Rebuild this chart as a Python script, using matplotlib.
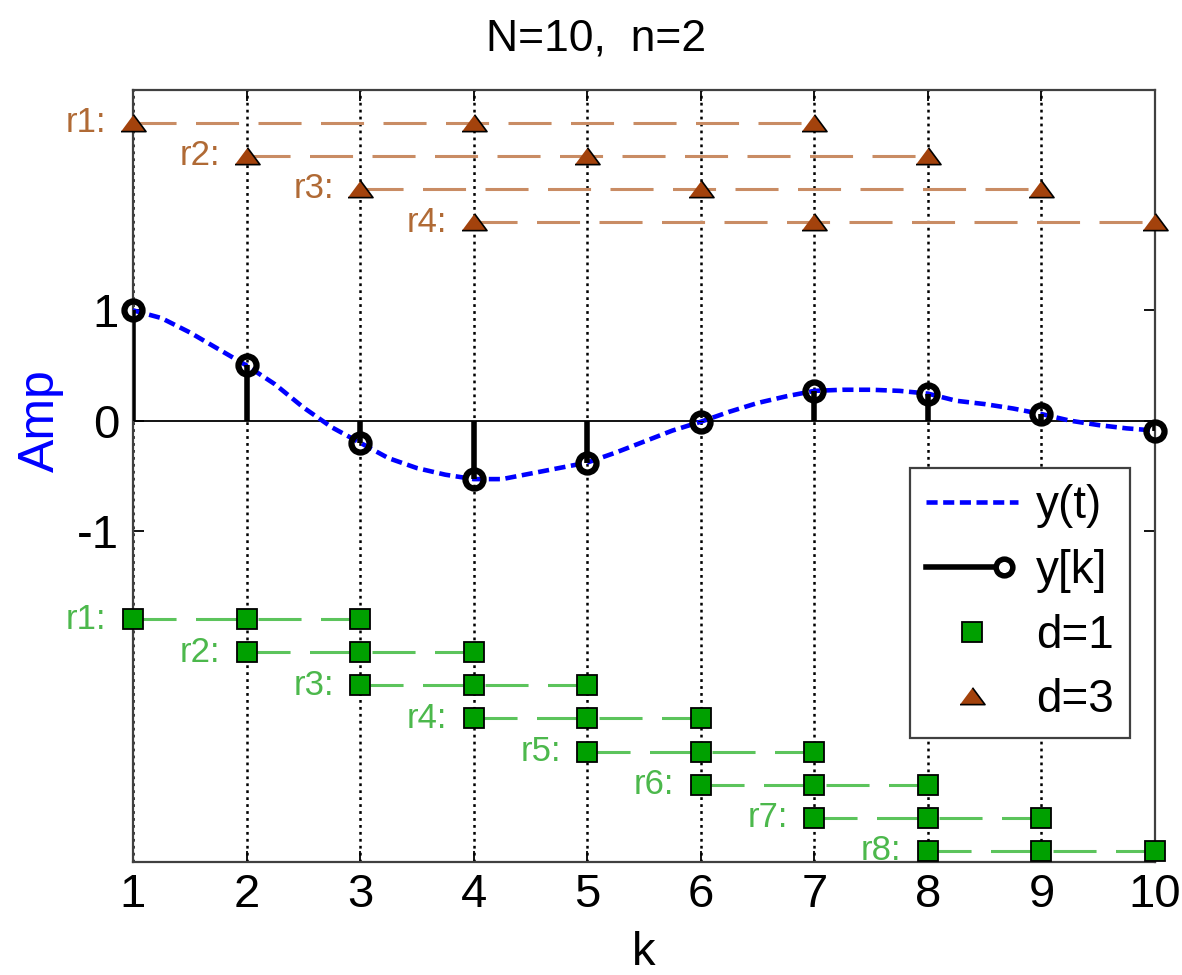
import numpy as np
import matplotlib.pyplot as plt
from matplotlib.lines import Line2D
from matplotlib.legend_handler import HandlerBase

plt.rcParams['font.family'] = ['Liberation Sans', 'DejaVu Sans']
plt.rcParams['axes.unicode_minus'] = False
plt.rcParams['lines.scale_dashes'] = False

# samples y[k]
k = [1, 2, 3, 4, 5, 6, 7, 8, 9, 10]
y_k = [1.0, 0.5, -0.2, -0.53, -0.38, -0.01, 0.27, 0.245, 0.06, -0.09]

# continuous y(t)
t = [1.0, 1.25, 1.5, 1.75, 2.0, 2.25, 2.5, 2.75, 3.0, 3.25, 3.5, 3.75,
     4.0, 4.25, 4.5, 4.75, 5.0, 5.25, 5.5, 5.75, 6.0, 6.25, 6.5, 6.75,
     7.0, 7.25, 7.5, 7.75, 8.0, 8.25, 8.5, 8.75, 9.0, 9.25, 9.5, 9.75, 10.0]
y_t = [1.0, 0.93, 0.8, 0.65, 0.5, 0.33, 0.12, -0.06, -0.2, -0.34, -0.43, -0.49,
       -0.53, -0.53, -0.48, -0.43, -0.38, -0.29, -0.19, -0.09, -0.01, 0.08, 0.16, 0.22,
       0.27, 0.28, 0.28, 0.27, 0.245, 0.18, 0.15, 0.11, 0.06, 0.0, -0.04, -0.07, -0.09]

# d=3 rows (triangles) and d=1 rows (squares)
d3_rows = [[1, 4, 7], [2, 5, 8], [3, 6, 9], [4, 7, 10]]
d3_levels = [2.7, 2.4, 2.1, 1.8]
d1_rows = [[1, 2, 3], [2, 3, 4], [3, 4, 5], [4, 5, 6],
           [5, 6, 7], [6, 7, 8], [7, 8, 9], [8, 9, 10]]
d1_levels = [-1.8, -2.1, -2.4, -2.7, -3.0, -3.3, -3.6, -3.9]

brown_fill = '#A3420C'
brown_line = '#C98C64'
brown_text = '#B06A35'
green_fill = '#00A000'
green_line = '#5CC45C'
green_text = '#4CB84C'

tri = [(-1, -0.65), (1, -0.65), (0, 0.7)]


class StemHandler(HandlerBase):
    def create_artists(self, legend, orig_handle, xdescent, ydescent,
                       width, height, fontsize, trans):
        y = height / 2 - ydescent
        ln = Line2D([-xdescent, width - xdescent - 10], [y, y], color='k', lw=4)
        mk = Line2D([width - xdescent - 10], [y], ls='none', marker='o', ms=12,
                    mfc='white', mec='k', mew=4)
        ln.set_transform(trans)
        mk.set_transform(trans)
        return [ln, mk]


fig = plt.figure(figsize=(11.82, 9.75), dpi=100)
ax = fig.add_axes([0.1125, 0.116, 0.8647, 0.792])

ax.plot(t, y_t, color='#0000FF', ls=(0, (8, 4)), lw=3.3, zorder=3)

markerline, stemlines, baseline = ax.stem(k, y_k, linefmt='k-', markerfmt='o', basefmt='k-')
stemlines.set_linewidth(4)
stemlines.set_zorder(4)
markerline.set(color='k', mfc='none', ms=13, mew=4.5, zorder=5, clip_on=False)
baseline.set(lw=1.3, zorder=2)

for i, (xs, lev) in enumerate(zip(d3_rows, d3_levels)):
    ys = [lev] * len(xs)
    ax.plot(xs, ys, ls=(0, (31, 14)), color=brown_line, lw=2.2, zorder=3)
    ax.plot(xs, ys, ls='none', marker=tri, ms=18, mfc=brown_fill, mec='k',
            mew=1.2, clip_on=False, zorder=6)
    ax.annotate('r%d:' % (i + 1), (xs[0], lev), xytext=(-19, 0),
                textcoords='offset points', ha='right', va='center',
                color=brown_text, fontsize=25, annotation_clip=False)

for i, (xs, lev) in enumerate(zip(d1_rows, d1_levels)):
    ys = [lev] * len(xs)
    ax.plot(xs, ys, ls=(0, (31, 14)), color=green_line, lw=2.2, zorder=3)
    ax.plot(xs, ys, ls='none', marker='s', ms=14, mfc=green_fill, mec='k',
            mew=1.3, clip_on=False, zorder=6)
    ax.annotate('r%d:' % (i + 1), (xs[0], lev), xytext=(-19, 0),
                textcoords='offset points', ha='right', va='center',
                color=green_text, fontsize=25, annotation_clip=False)

ax.set_xlim(1, 10)
ax.set_ylim(-4, 3)
ax.set_xticks(k)
ax.set_yticks([-1, 0, 1])
ax.grid(axis='x', color='k', ls=(0, (2, 3)), lw=1.8)
ax.set_axisbelow(True)
ax.tick_params(direction='in', length=8, width=1.3, top=True, right=True,
               labelsize=34, colors='k')
ax.tick_params(axis='x', pad=8)
ax.tick_params(axis='y', pad=10)
for s in ax.spines.values():
    s.set_color('0.25')
    s.set_linewidth(1.6)

ax.set_title('N=10,  n=2', fontsize=32, x=0.453, pad=28)
ax.set_xlabel('k', fontsize=34, labelpad=10)
ax.set_ylabel('Amp', fontsize=36, color='#0000FF')
ax.yaxis.set_label_coords(-0.068, 0.571)

stem_proxy = object()
h_yt = Line2D([], [], color='#0000FF', ls=(0, (8, 4)), lw=3.3)
h_d1 = Line2D([], [], ls='none', marker='s', ms=14, mfc=green_fill, mec='k', mew=1.3)
h_d3 = Line2D([], [], ls='none', marker=tri, ms=18, mfc=brown_fill, mec='k', mew=1.2)
leg = ax.legend([h_yt, stem_proxy, h_d1, h_d3], ['y(t)', 'y[k]', 'd=1', 'd=3'],
                handler_map={stem_proxy: StemHandler()}, numpoints=1,
                loc='lower right', bbox_to_anchor=(0.9755, 0.16), fontsize=33,
                fancybox=False, framealpha=1, edgecolor='0.25',
                handlelength=2.0, handletextpad=0.4, borderpad=0.35,
                labelspacing=0.45, borderaxespad=0)
leg.get_frame().set_linewidth(1.6)
leg.set_zorder(10)

fig.savefig('out.png', dpi=100)
